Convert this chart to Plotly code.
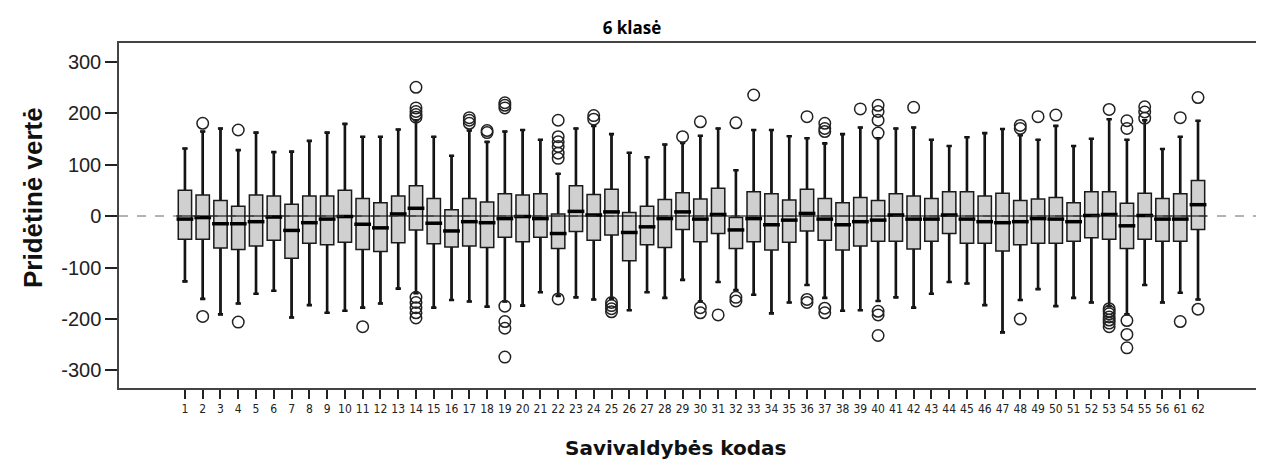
import plotly.graph_objects as go

codes = [str(i) for i in range(1, 57)] + ["61", "62"]

q3 = [50, 41, 30, 19, 41, 39, 23, 39, 39, 50, 34, 26, 39, 59, 34, 12, 34, 27, 43, 41,
      43, 4, 59, 42, 52, 7, 19, 32, 45, 33, 54, -3, 47, 43, 31, 52, 34, 26, 36, 30,
      43, 39, 34, 47, 47, 39, 44, 30, 33, 36, 26, 47, 47, 25, 44, 34, 43, 69]
med = [-6, -3, -15, -15, -11, -2, -28, -13, -6, -1, -16, -23, 4, 15, -14, -29, -11, -13, -5, -1,
       -5, -34, 9, 2, 8, -32, -21, -5, 8, -6, 3, -27, -5, -17, -8, 5, -6, -17, -11, -8,
       2, -6, -6, 2, -6, -11, -13, -11, -5, -6, -11, 1, 3, -19, 1, -6, -6, 22]
q1 = [-45, -45, -62, -65, -58, -47, -82, -53, -56, -51, -65, -69, -52, -27, -54, -60, -58, -61, -41, -50,
      -41, -63, -30, -47, -37, -87, -56, -61, -26, -50, -34, -63, -50, -66, -51, -29, -47, -66, -58, -49,
      -49, -64, -49, -34, -53, -53, -68, -56, -53, -53, -49, -42, -45, -63, -45, -49, -49, -26]
upper = [131, 164, 170, 128, 162, 124, 125, 146, 162, 179, 154, 154, 168, 186, 154, 117, 166, 144, 164, 167,
         148, 82, 170, 175, 159, 123, 114, 139, 142, 156, 170, 89, 167, 167, 155, 151, 141, 159, 172, 151,
         170, 172, 148, 136, 153, 161, 169, 157, 148, 175, 136, 150, 188, 148, 186, 130, 154, 185]
lower = [-127, -161, -191, -170, -151, -145, -197, -173, -188, -184, -178, -170, -141, -150, -178, -163, -166, -176, -166, -174,
         -148, -155, -158, -162, -161, -183, -148, -159, -124, -166, -128, -144, -153, -189, -168, -134, -159, -184, -183, -165,
         -158, -178, -151, -128, -131, -173, -226, -163, -142, -175, -159, -168, -175, -191, -134, -168, -149, -162]
outliers = [
    [], [180, -195], [], [167, -206], [], [], [], [], [], [],
    [-215], [], [], [250, 210, 203, 197, 192, -158, -168, -178, -188, -198], [], [], [191, 186, 180], [166, 162],
    [220, 215, 210, -175, -205, -218, -274], [],
    [], [186, 154, 144, 135, 122, 112, -161], [], [195, 188], [-168, -174, -180, -186], [], [], [], [154], [183, -178, -188],
    [-192], [181, -158, -165], [235], [], [], [193, -162, -168], [180, 170, 164, -179, -188], [], [208],
    [215, 203, 186, 161, -185, -192, -232],
    [], [211], [], [], [], [], [], [176, 170, -200], [193], [196],
    [], [], [207, -180, -185, -190, -196, -202, -208, -215], [185, 170, -203, -230, -256], [212, 202, 190], [],
    [191, -205], [230, -181],
]
y_ticks = [-300, -200, -100, 0, 100, 200, 300]
y_tick_labels = ["-300", "-200", "-100", "0", "100", "200", "300"]

xs = list(range(len(codes)))
ox, oy = [], []
for i, vals in enumerate(outliers):
    for v in vals:
        ox.append(i)
        oy.append(v)

fig = go.Figure()
# thick whiskers (box collapsed to the median, later covered by the real box)
fig.add_trace(go.Box(
    x=xs, q1=med, median=med, q3=med, lowerfence=lower, upperfence=upper,
    width=0.75, whiskerwidth=0.38, fillcolor="#d0d0d0",
    line=dict(color="#000", width=2.6), boxpoints=False, showlegend=False,
    hoverinfo="skip",
))
fig.add_trace(go.Box(
    x=xs, q1=q1, median=med, q3=q3, lowerfence=lower, upperfence=upper,
    width=0.75, whiskerwidth=0.38, fillcolor="#d0d0d0",
    line=dict(color="#1a1a1a", width=1.5), boxpoints=False, showlegend=False,
    hoverinfo="skip",
))
fig.add_trace(go.Scatter(
    x=xs, y=med, mode="markers",
    marker=dict(symbol="line-ew", size=12, line=dict(color="#000", width=3.5)),
    showlegend=False, hoverinfo="skip",
))
fig.add_trace(go.Scatter(
    x=ox, y=oy, mode="markers",
    marker=dict(symbol="circle-open", size=11.5, color="#222", line=dict(width=1.5)),
    showlegend=False, hoverinfo="skip",
))

fig.add_shape(type="line", xref="paper", x0=0, x1=1, y0=0, y1=0,
              line=dict(color="#666", width=1, dash="dash"), layer="above")
fig.add_shape(type="line", xref="x", x0=-0.5, x1=len(codes) - 0.5, y0=0, y1=0,
              line=dict(color="#000", width=1.2), layer="above")

W, H = 1256, 464  # page body has an 8px margin
fig.update_layout(
    width=W, height=H, boxmode="overlay",
    margin=dict(l=111, r=2, t=35, b=84),
    paper_bgcolor="white", plot_bgcolor="white",
    title=dict(text="<b>6 klasė</b>", x=624 / W, xref="container", y=1 - 20 / H,
               yanchor="middle", xanchor="center",
               font=dict(family="Open Sans, Noto Sans, sans-serif", size=17, color="#000")),
    xaxis=dict(
        range=[-3.71, 60.6], tickmode="array", tickvals=xs, ticktext=codes,
        ticks="outside", ticklen=9, tickwidth=2, tickcolor="#222",
        tickfont=dict(family="Liberation Sans Narrow, Arial Narrow, DejaVu Sans Condensed, Liberation Sans",
                      size=12, color="#222"),
        showline=True, linecolor="#444", linewidth=1.5, mirror=True,
        showgrid=False, zeroline=False, automargin=False,
    ),
    yaxis=dict(
        range=[-334, 336], tickmode="array", tickvals=y_ticks, ticktext=y_tick_labels,
        ticks="outside", ticklen=12, tickwidth=2, tickcolor="#222",
        tickfont=dict(family="Liberation Sans, Arial, sans-serif", size=20, color="#222"),
        showline=True, linecolor="#444", linewidth=1.5, mirror=True,
        showgrid=False, zeroline=False, automargin=False,
    ),
    annotations=[
        dict(text="<b>Pridėtinė vertė</b>", xref="paper", yref="paper",
             x=(33 - 119) / 1143, y=(388 - 198) / 345, textangle=-90,
             showarrow=False, xanchor="center", yanchor="middle",
             font=dict(family="Liberation Sans, Arial, sans-serif", size=26, color="#111")),
        dict(text="<b>Savivaldybės kodas</b>", xref="paper", yref="paper",
             x=(676 - 119) / 1143, y=(388 - 448) / 345,
             showarrow=False, xanchor="center", yanchor="middle",
             font=dict(family="DejaVu Sans, sans-serif", size=20, color="#111")),
    ],
)

fig.write_html("out.html")
